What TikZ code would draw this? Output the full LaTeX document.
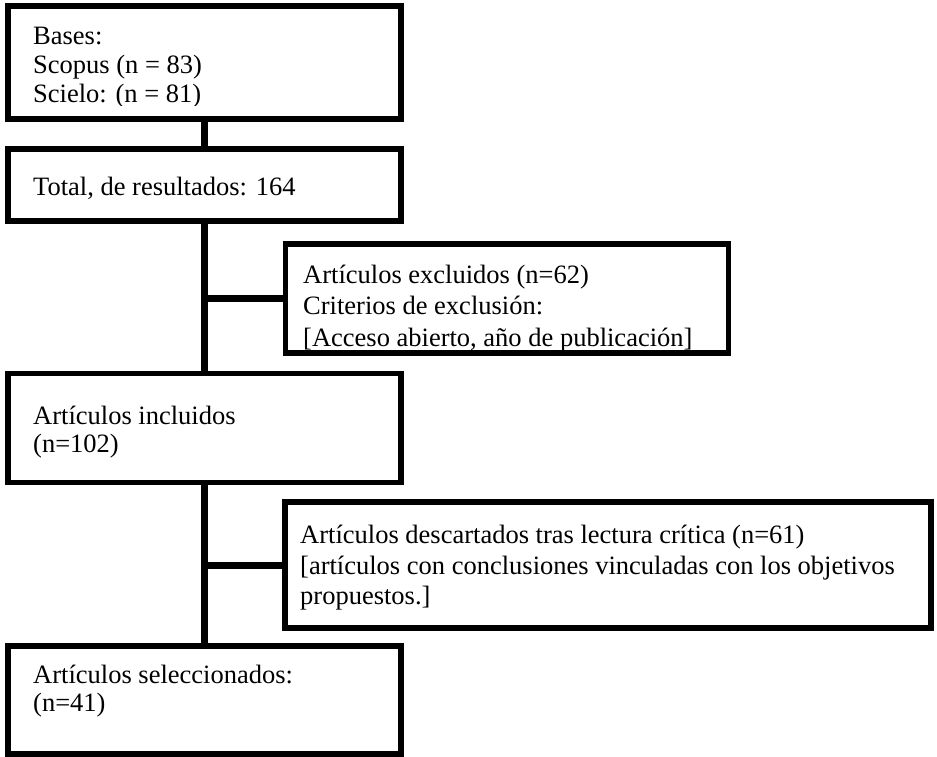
\documentclass[tikz,border=0pt]{standalone}
\usepackage{fontspec}
\setmainfont{Liberation Serif}
\begin{document}
\begin{tikzpicture}[x=1pt,y=-1pt,
  box/.style={draw=black,line width=5.5pt,rectangle,outer sep=0pt,inner sep=0pt,fill=white},
  conn/.style={draw=black,line width=7pt},
  txt/.style={anchor=base west,inner sep=0pt,font=\fontsize{26.5}{29}\selectfont,align=left}]
\useasboundingbox (0,0) rectangle (937,757);
% boxes
\node[box,minimum width=393pt,minimum height=113pt] (b1) at (204.5,62.5) {};
\node[box,minimum width=393pt,minimum height=72pt] (b2) at (204.5,185) {};
\node[box,minimum width=443pt,minimum height=109pt] (b3) at (507,298.5) {};
\node[box,minimum width=393pt,minimum height=109pt] (b4) at (204.5,428) {};
\node[box,minimum width=646pt,minimum height=126pt] (b5) at (608,565) {};
\node[box,minimum width=393pt,minimum height=108pt] (b6) at (204.5,700) {};
% connectors
\draw[conn] (b1.south) -- (b2.north);
\draw[conn] (b2.south) -- (b4.north);
\draw[conn] (b4.south) -- (b6.north);
\coordinate (j1) at (b2.south |- b3.west);
\coordinate (j2) at (b4.south |- b5.west);
\draw[conn] (j1) -- (b3.west);
\draw[conn] (j2) -- (b5.west);
% texts
\begin{scope}
\clip (10,8) rectangle (397,106);
\node[txt] (t1a) at (33,45) {Bases:};
\node[txt] (t1b) at (33,74) {Scopus (n = 83)};
\node[txt] (t1c) at (33,103) {Scielo: (n = 81)};
\end{scope}
\node[txt] (t2) at (33,195) {Total, de resultados: 164};
\begin{scope}
\clip (288,247) rectangle (727,349);
\node[txt] (t3a) at (303,283) {Artículos excluidos (n=62)};
\node[txt] (t3b) at (303,314) {Criterios de exclusión:};
\node[txt] (t3c) at (303,346) {[Acceso abierto, año de publicación]};
\end{scope}
\node[txt] (t4a) at (33,424) {Artículos incluidos};
\node[txt] (t4b) at (33,452) {(n=102)};
\node[txt] (t5a) at (300,543) {Artículos descartados tras lectura crítica (n=61)};
\node[txt] (t5b) at (300,574) {[artículos con conclusiones vinculadas con los objetivos};
\node[txt] (t5c) at (300,604) {propuestos.]};
\node[txt] (t6a) at (33,683) {Artículos seleccionados:};
\node[txt] (t6b) at (33,711) {(n=41)};
\end{tikzpicture}
\end{document}
